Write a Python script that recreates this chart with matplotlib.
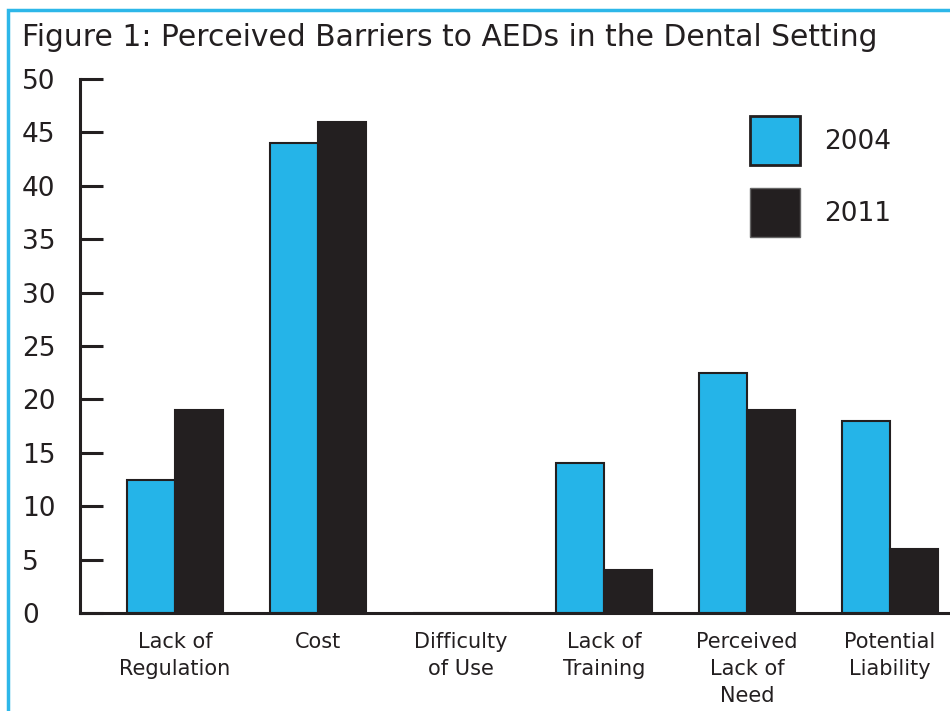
import matplotlib
matplotlib.use("Agg")
import matplotlib.pyplot as plt
from matplotlib.patches import Rectangle, Patch
import numpy as np

categories = ["Lack of\nRegulation", "Cost", "Difficulty\nof Use",
              "Lack of\nTraining", "Perceived\nLack of\nNeed", "Potential\nLiability"]
series_names = ["2004", "2011"]
values_2004 = [12.5, 44, 0, 14, 22.5, 18]
values_2011 = [19, 46, 0, 4, 19, 6]
yticks = [0, 5, 10, 15, 20, 25, 30, 35, 40, 45, 50]
title = "Figure 1: Perceived Barriers to AEDs in the Dental Setting"

BLUE = "#25B4E8"
DARK = "#231F20"
FRAME = "#2DB7E9"

plt.rcParams["font.family"] = ["DejaVu Sans"]

W, H = 950, 711
fig = plt.figure(figsize=(W / 100, H / 100), dpi=100)

# light blue frame, open at the right and bottom edges
fig.add_artist(Rectangle((8 / W, -0.1), 1.2, 1 - 10 / H + 0.1,
                         transform=fig.transFigure, fill=False,
                         edgecolor=FRAME, linewidth=2.5))

fig.text(22 / W, 1 - 37 / H, title, fontsize=21.4, color=DARK,
         ha="left", va="center")

ax = fig.add_axes([80 / W, 1 - 613 / H, 1 - 80 / W, (613 - 79) / H])
x = np.arange(len(categories))
bw = 0.336
ax.bar(x - bw / 2, values_2004, bw, color=BLUE, edgecolor=DARK, linewidth=1.5,
       label=series_names[0])
ax.bar(x + bw / 2, values_2011, bw, color=DARK, edgecolor=DARK, linewidth=1.5,
       label=series_names[1])

ax.set_xlim(-0.664, 5.42)
ax.set_ylim(0, 50)
for s in ["top", "right"]:
    ax.spines[s].set_visible(False)
for s in ["left", "bottom"]:
    ax.spines[s].set_color(DARK)
    ax.spines[s].set_linewidth(2.2)

ax.set_yticks(yticks)
ax.set_yticklabels([str(t) for t in yticks], fontsize=19, color=DARK)
ax.tick_params(axis="y", direction="in", length=16.5, width=2.2, color=DARK,
               pad=41.8)
for lbl in ax.get_yticklabels():
    lbl.set_horizontalalignment("left")

ax.set_xticks(x)
ax.set_xticklabels(categories, fontsize=15, color=DARK, linespacing=1.42)
ax.tick_params(axis="x", length=0, pad=14)

handles = [Patch(facecolor=BLUE, edgecolor=DARK, linewidth=2),
           Patch(facecolor=DARK, edgecolor="#666666", linewidth=1)]
fig.legend(handles, series_names, loc="upper left",
           bbox_to_anchor=(750 / W, 1 - 116 / H), frameon=False,
           fontsize=19, handlelength=1.89, handleheight=2.48,
           labelspacing=0.87, handletextpad=0.91, borderpad=0, borderaxespad=0,
           labelcolor=DARK)

fig.savefig("out.png", dpi=100)
